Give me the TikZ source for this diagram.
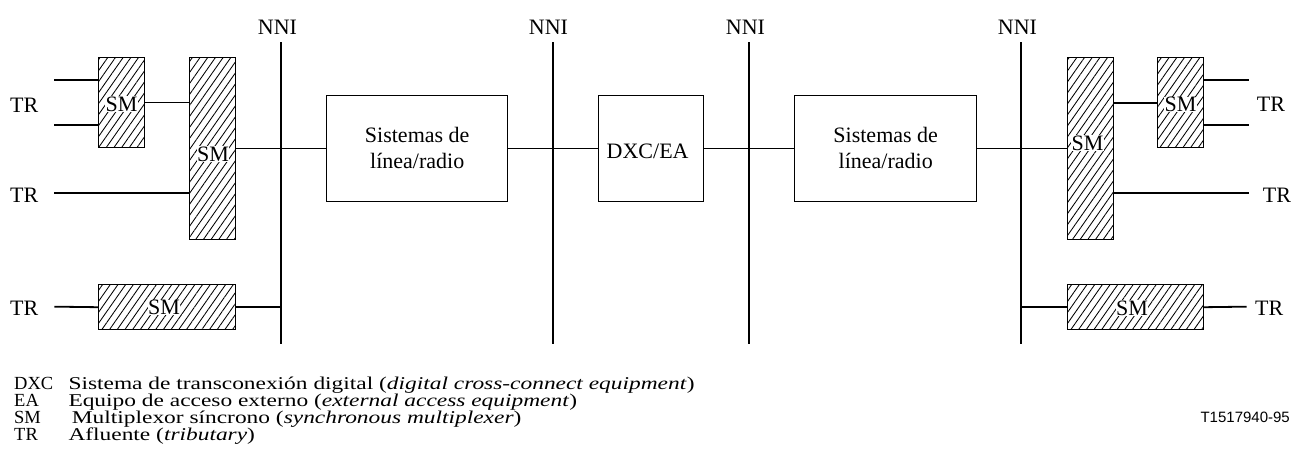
\documentclass[tikz,border=0pt]{standalone}
\usepackage{fontspec}
\setmainfont{Liberation Serif}
\newfontfamily\arialfont{Liberation Sans}
\newfontfamily\legfont{Liberation Serif}[FakeStretch=1.3]
\usetikzlibrary{patterns.meta}
\begin{document}
\begin{tikzpicture}[x=1pt,y=-1pt,
  wire/.style={line width=1.8pt},
  plainbox/.style={draw, line width=1.1pt, fill=white, inner sep=0pt, align=center,
    font=\fontsize{22}{26}\selectfont},
  smbox/.style={draw, line width=1.1pt, inner sep=0pt,
    pattern={Lines[angle=55,distance=6.3pt,line width=0.85pt]}},
  smlabel/.style={fill=white, inner sep=0.4pt, anchor=base, font=\fontsize{22}{24}\selectfont},
  lbl/.style={inner sep=0pt, font=\fontsize{22}{24}\selectfont},
  legkey/.style={inner sep=0pt, anchor=base west, font=\fontsize{18.5}{20}\selectfont},
  leg/.style={inner sep=0pt, anchor=base west, font=\legfont\fontsize{18}{20}\selectfont}]
\useasboundingbox (0,0) rectangle (1295,475);

% NNI lines
\foreach \i/\x in {1/281,2/552.7,3/749,4/1021}{
  \coordinate (n\i t) at (\x,42.3);
  \coordinate (n\i b) at (\x,344);
}
\draw[wire] (n1t) -- (n1b);
\draw[wire] (n2t) -- (n2b);
\draw[wire] (n3t) -- (n3b);
\draw[wire] (n4t) -- (n4b);
\node[lbl, anchor=base] (nni1) at (277.5,34) {NNI};
\node[lbl, anchor=base] (nni2) at (548.5,34) {NNI};
\node[lbl, anchor=base] (nni3) at (745.5,34) {NNI};
\node[lbl, anchor=base] (nni4) at (1017.5,34) {NNI};

% left SM boxes
\node[smbox, anchor=north west, minimum width=46pt, minimum height=89.7pt] (smA) at (98.3,57.3) {};
\node[smbox, anchor=north west, minimum width=46pt, minimum height=181.4pt] (smB) at (189.3,57.3) {};
\node[smbox, anchor=north west, minimum width=137pt, minimum height=45.3pt] (smC) at (98.3,284) {};
% right SM boxes
\node[smbox, anchor=north west, minimum width=46pt, minimum height=181.4pt] (smD) at (1066.7,57.3) {};
\node[smbox, anchor=north west, minimum width=45.7pt, minimum height=89.7pt] (smE) at (1157.3,57.3) {};
\node[smbox, anchor=north west, minimum width=136.3pt, minimum height=45.3pt] (smF) at (1066.7,284) {};

% plain boxes
\node[plainbox, anchor=north west, minimum width=181.3pt, minimum height=105.7pt] (sys1) at (326,95) {Sistemas de\\línea/radio};
\node[plainbox, anchor=north west, minimum width=105.6pt, minimum height=105.7pt] (dxc) at (597.7,95) {};
\node[lbl, anchor=base west] (dxct) at (606.5,158.5) {DXC/EA};
\node[plainbox, anchor=north west, minimum width=181.7pt, minimum height=105.7pt] (sys2) at (794.3,95) {Sistemas de\\línea/radio};

% SM labels
\node[smlabel] (lA) at (121.5,111) {SM};
\node[smlabel] (lB) at (213,161) {SM};
\node[smlabel] (lC) at (164,314.5) {SM};
\node[smlabel] (lD) at (1087.5,150) {SM};
\node[smlabel] (lE) at (1180.5,111.5) {SM};
\node[smlabel] (lF) at (1132,315) {SM};

% tributary ends
\coordinate (ta1) at (54.3,80);
\coordinate (ta2) at (54.3,125);
\coordinate (tb) at (54.3,193.3);
\coordinate (tc) at (54.3,306.65);
\coordinate (te1) at (1248.7,80);
\coordinate (te2) at (1248.7,125);
\coordinate (td) at (1248.7,193.3);
\coordinate (tf) at (1246.7,306.65);

% connectors
\draw[wire] (ta1) -- (ta1 -| smA.west);
\draw[wire] (ta2) -- (ta2 -| smA.west);
\draw[wire] (tb) -- (tb -| smB.west);
\draw[wire] (tc) -- (smC.west);
\draw[wire] (smA.east) -- (smA.east -| smB.west);
\draw[wire] (smB.east) -- (smB.east -| sys1.west);
\draw[wire] (smC.east) -- (smC.east -| n1t);
\draw[wire] (sys1.east) -- (sys1.east -| dxc.west);
\draw[wire] (dxc.east) -- (dxc.east -| sys2.west);
\draw[wire] (sys2.east) -- (sys2.east -| smD.west);
\draw[wire] (smD.east |- smE.west) -- (smE.west);
\draw[wire] (te1 -| smE.east) -- (te1);
\draw[wire] (te2 -| smE.east) -- (te2);
\draw[wire] (td -| smD.east) -- (td);
\draw[wire] (smF.west -| n4t) -- (smF.west);
\draw[wire] (smF.east) -- (tf);

% TR labels
\node[lbl, anchor=base west] (trA) at (10,112.5) {TR};
\node[lbl, anchor=base west] (trB) at (10,202.5) {TR};
\node[lbl, anchor=base west] (trC) at (10,315.5) {TR};
\node[lbl, anchor=base west] (trE) at (1256.7,111.5) {TR};
\node[lbl, anchor=base west] (trD) at (1262.7,202.5) {TR};
\node[lbl, anchor=base west] (trF) at (1255,315.5) {TR};

% legend
\node[legkey] (k1) at (14,389) {DXC};
\node[leg] (d1) at (68.3,389) {Sistema de transconexión digital (\textit{digital cross-connect equipment})};
\node[legkey] (k2) at (14,406) {EA};
\node[leg] (d2) at (68.3,406) {Equipo de acceso externo (\textit{external access equipment})};
\node[legkey] (k3) at (14,423) {SM};
\node[leg] (d3) at (71.7,423) {Multiplexor síncrono (\textit{synchronous multiplexer})};
\node[legkey] (k4) at (14,440) {TR};
\node[leg] (d4) at (68.3,440) {Afluente (\textit{tributary})};
\node[inner sep=0pt, anchor=base east, font=\arialfont\fontsize{15}{17}\selectfont] (code) at (1290,422.5) {T1517940-95};
\end{tikzpicture}
\end{document}
